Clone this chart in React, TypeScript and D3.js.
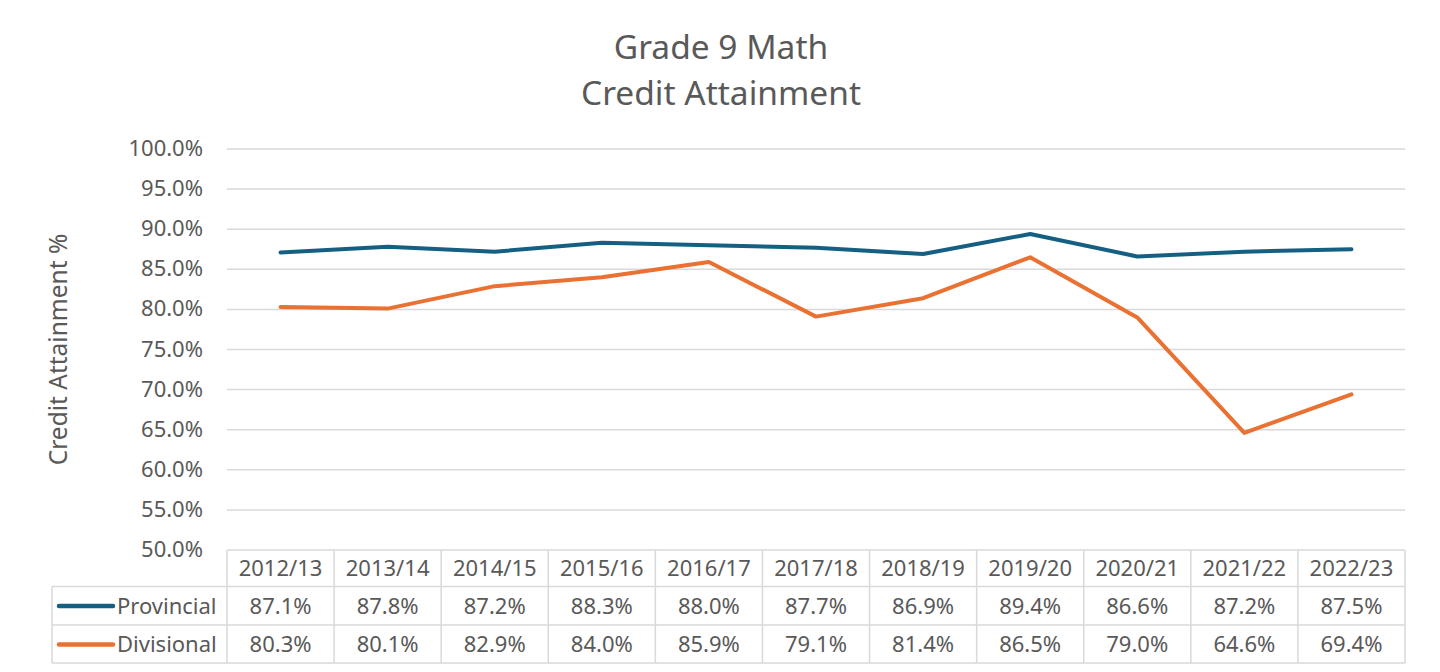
import React from "react";
import * as d3 from "d3";

const categories = ["2012/13","2013/14","2014/15","2015/16","2016/17","2017/18","2018/19","2019/20","2020/21","2021/22","2022/23"];
const provincial = [87.1, 87.8, 87.2, 88.3, 88.0, 87.7, 86.9, 89.4, 86.6, 87.2, 87.5];
const divisional = [80.3, 80.1, 82.9, 84.0, 85.9, 79.1, 81.4, 86.5, 79.0, 64.6, 69.4];
const yTicks = [50, 55, 60, 65, 70, 75, 80, 85, 90, 95, 100];
const seriesList = [
  { name: "Provincial", values: provincial, color: "#156082" },
  { name: "Divisional", values: divisional, color: "#E97132" },
];

export default function App() {
  const W = 1440, H = 672;
  const left = 227, right = 1405, top = 149, bottom = 550;
  const font = "'Noto Sans', 'Open Sans', sans-serif";
  const text = "#595959";
  const grid = "#d9d9d9";
  const x = d3.scaleBand<string>().domain(categories).range([left, right]);
  const y = d3.scaleLinear().domain([50, 100]).range([bottom, top]);
  const line = d3.line<number>()
    .x((_, i) => (x(categories[i]) as number) + x.bandwidth() / 2)
    .y((d) => y(d));
  const rowH = [36.5, 38.5, 38];
  const rowY = [bottom, bottom + rowH[0], bottom + rowH[0] + rowH[1], bottom + rowH[0] + rowH[1] + rowH[2]];
  const legendLeft = 52;
  const fs = 22;
  return (
    <div style={{ margin: -8 }}>
      <svg width={W} height={H} style={{ display: "block", background: "#fff" }} fontFamily={font}>
        <rect x={6} y={5} width={1428} height={700} fill="#fff" stroke="#d4d4d4" strokeWidth={2} />
        <text x={721} y={59} textAnchor="middle" fontSize={33.5} fill={text}>Grade 9 Math</text>
        <text x={721} y={105} textAnchor="middle" fontSize={33.5} fill={text}>Credit Attainment</text>
        <text transform={`translate(67,${(top + bottom) / 2}) rotate(-90)`} textAnchor="middle" fontSize={24.5} fill={text}>Credit Attainment %</text>
        {yTicks.map((t) => (
          <g key={t}>
            {t !== 50 && <line x1={left} x2={right} y1={y(t)} y2={y(t)} stroke={grid} strokeWidth={1.5} />}
            <text x={203} y={y(t) + 7} textAnchor="end" fontSize={fs} fill={text}>{t.toFixed(1)}%</text>
          </g>
        ))}
        <g stroke={grid} strokeWidth={1.5} fill="none">
          <line x1={left} x2={right} y1={rowY[0]} y2={rowY[0]} />
          <line x1={legendLeft} x2={right} y1={rowY[1]} y2={rowY[1]} />
          <line x1={legendLeft} x2={right} y1={rowY[2]} y2={rowY[2]} />
          <line x1={legendLeft} x2={right} y1={rowY[3]} y2={rowY[3]} />
          <line x1={legendLeft} x2={legendLeft} y1={rowY[1]} y2={rowY[3]} />
          {categories.map((c) => (
            <line key={c} x1={x(c) as number} x2={x(c) as number} y1={rowY[0]} y2={rowY[3]} />
          ))}
          <line x1={right} x2={right} y1={rowY[0]} y2={rowY[3]} />
        </g>
        {categories.map((c) => (
          <text key={c} x={(x(c) as number) + x.bandwidth() / 2} y={rowY[0] + 26} textAnchor="middle" fontSize={fs} fill={text}>{c}</text>
        ))}
        {seriesList.map((s, si) => (
          <g key={s.name}>
            <line x1={59} x2={113} y1={rowY[si + 1] + 19.5} y2={rowY[si + 1] + 19.5} stroke={s.color} strokeWidth={4.5} strokeLinecap="round" />
            <text x={117} y={rowY[si + 1] + 27} fontSize={fs} fill={text}>{s.name}</text>
            {s.values.map((v, i) => (
              <text key={i} x={(x(categories[i]) as number) + x.bandwidth() / 2} y={rowY[si + 1] + 27} textAnchor="middle" fontSize={fs} fill={text}>{v.toFixed(1)}%</text>
            ))}
          </g>
        ))}
        {seriesList.map((s) => (
          <path key={s.name} d={line(s.values) as string} fill="none" stroke={s.color} strokeWidth={4} strokeLinejoin="round" strokeLinecap="round" />
        ))}
      </svg>
    </div>
  );
}
